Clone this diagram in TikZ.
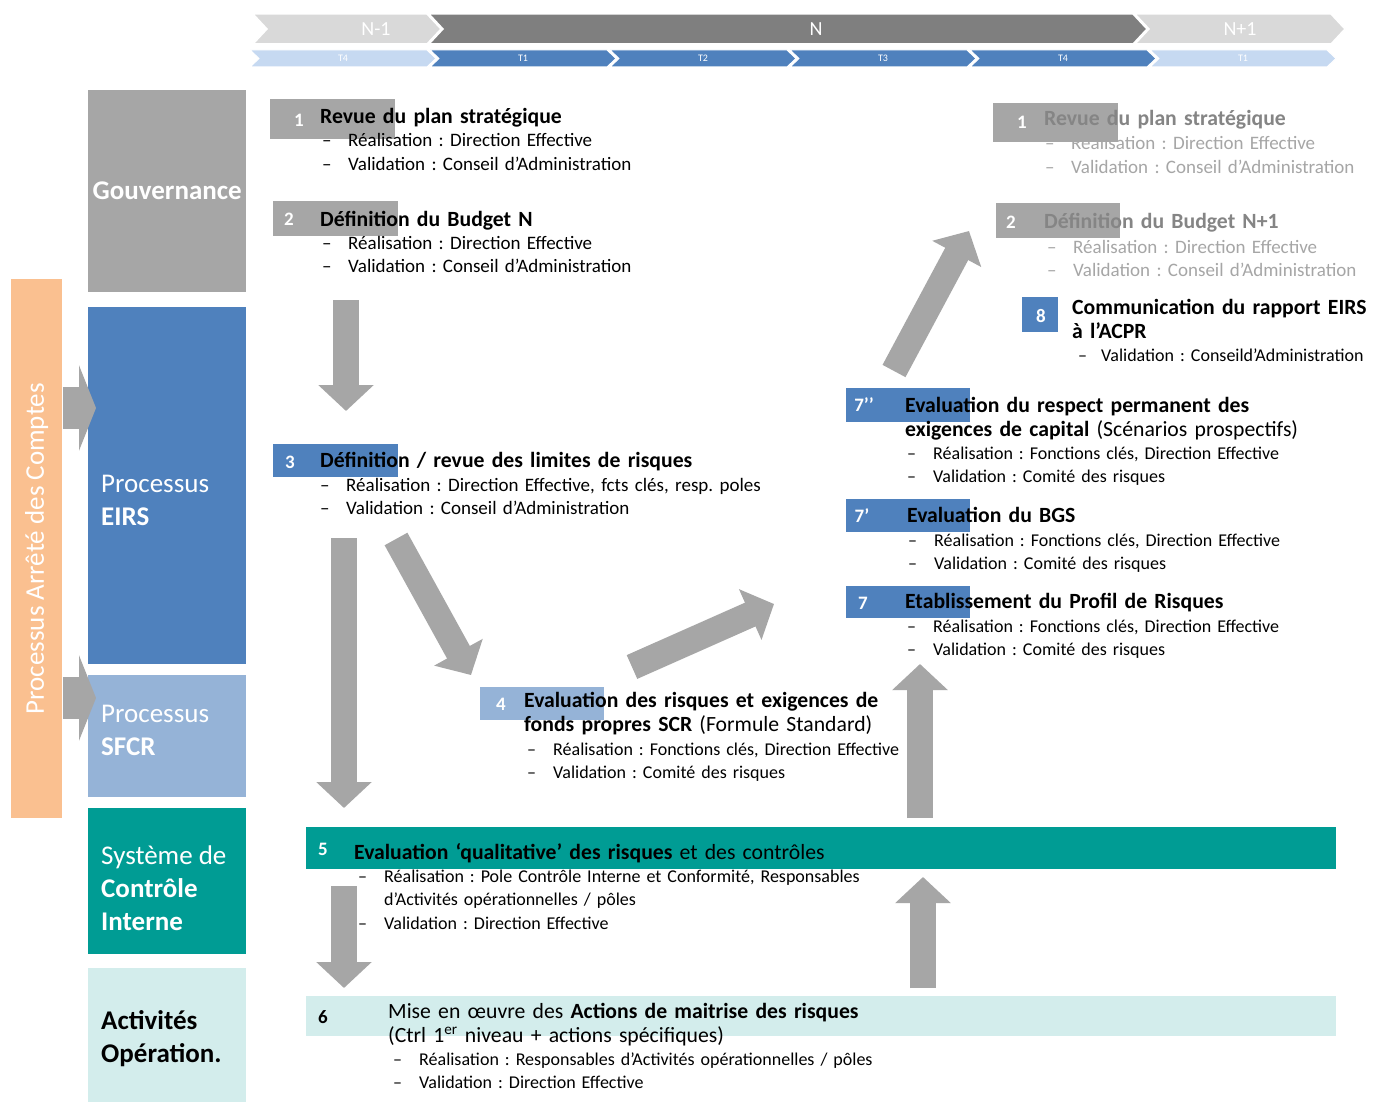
\documentclass[tikz,border=0pt]{standalone}
\usepackage{fontspec}
\setmainfont{Carlito}
\usepackage{tikz}
\usetikzlibrary{positioning, arrows.meta}

\definecolor{gris}{HTML}{A6A6A6}
\definecolor{grisf}{HTML}{7F7F7F}
\definecolor{grisc}{HTML}{D9D9D9}
\definecolor{bleu}{HTML}{4F81BD}
\definecolor{bleuc}{HTML}{95B3D7}
\definecolor{bleutl}{HTML}{C6D9F1}
\definecolor{sarc}{HTML}{009C94}
\definecolor{sarcc}{HTML}{D3EDEC}
\definecolor{peche}{HTML}{FAC090}
\definecolor{txtgris}{HTML}{858585}
\definecolor{txtgrisc}{HTML}{A6A6A6}

\newcommand{\tir}[1]{\makebox[26pt][l]{--}#1}
\newcommand{\sui}[1]{\makebox[26pt][l]{}#1}
\frenchspacing

\begin{document}
\begin{tikzpicture}[x=1pt, y=-1pt,
    side/.style={minimum width=158pt, inner sep=0pt, anchor=north west},
    sidetxt/.style={anchor=west, align=left, inner sep=0pt, text=white,
                    font=\fontsize{27}{33}\selectfont},
    nbox/.style={inner sep=0pt, anchor=north west},
    num/.style={text=white, inner sep=0pt, font=\fontsize{19}{20}\selectfont\bfseries},
    ttl/.style={anchor=base west, align=left, inner sep=0pt, text width=520pt,
                font=\fontsize{21.7}{24}\selectfont},
    sub/.style={anchor=base west, align=left, inner sep=0pt, text width=520pt,
                font=\fontsize{18}{23.5}\selectfont},
    subg/.style={sub, font=\fontsize{19}{23.5}\selectfont},
    an/.style={text=white, font=\fontsize{20}{20}\selectfont},
    tri/.style={text=white, font=\fontsize{10}{10}\selectfont},
    bigarr/.style={draw=gris, line width=26pt, -{Triangle[length=26pt, width=54pt]}},
    sidearr/.style={draw=gris, line width=42pt, -{Triangle[length=17pt, width=85pt]}},
  ]
  \path[use as bounding box, fill=white] (0,0) rectangle (1376,1102);

  % ── frise : années et trimestres ──
  \foreach \xa/\xb/\col/\lab/\xl [count=\i] in {253/427/grisc/N-1/376,
      429/1133/grisf/N/816, 1135/1331/grisc/N+1/1240} {
    \path[fill=\col, draw=white, line width=1.5pt] (\xa,14) -- (\xb,14) -- (\xb+14,29)
      -- (\xb,44) -- (\xa,44) -- (\xa+14,29) -- cycle;
    \node[an] (an\i) at (\xl,29) {\lab};
  }
  \foreach \xa/\col/\lab [count=\i] in {250/bleutl/T4, 430/bleu/T1, 610/bleu/T2,
      790/bleu/T3, 970/bleu/T4, 1150/bleutl/T1} {
    \path[fill=\col, draw=white, line width=1pt] (\xa,50) -- (\xa+177,50) -- (\xa+186,58.5)
      -- (\xa+177,67) -- (\xa,67) -- (\xa+9,58.5) -- cycle;
    \node[tri] (tr\i) at (\xa+93,58.5) {\lab};
  }

  % ── colonne de gauche ──
  \node[side, fill=peche, minimum width=51pt, minimum height=539pt] (pac) at (11,279) {};
  \node[rotate=90, text=white, font=\fontsize{27}{27}\selectfont] (tpac) at (pac.center)
    {Processus Arrêté des Comptes};
  \node[side, fill=gris,  minimum height=202pt] (gouv) at (88,90)  {};
  \node[side, fill=bleu,  minimum height=357pt] (eirs) at (88,307) {};
  \node[side, fill=bleuc, minimum height=122pt] (sfcr) at (88,675) {};
  \node[side, fill=sarc,  minimum height=146pt] (sci)  at (88,808) {};
  \node[side, fill=sarcc, minimum height=134pt] (act)  at (88,968) {};
  \node[sidetxt, anchor=center] (tgouv) at (gouv.center) {\textbf{Gouvernance}};
  \node[sidetxt] (teirs) at (101,500) {Processus\\\textbf{EIRS}};
  \node[sidetxt] (tsfcr) at (101,730) {Processus\\\textbf{SFCR}};
  \node[sidetxt] (tsci)  at (101,888) {Système de\\\textbf{Contrôle}\\\textbf{Interne}};
  \node[sidetxt, text=black] (tact) at (101,1039) {\textbf{Activités}\\\textbf{Opération.}};

  % ── bandeaux 5 et 6 ──
  \node[nbox, fill=sarc,  minimum width=1030pt, minimum height=42pt] (b5) at (306,827) {};
  \node[nbox, fill=sarcc, minimum width=1030pt, minimum height=40pt] (b6) at (306,996) {};

  % ── pavés numérotés ──
  \foreach \nm/\x/\y/\w/\h/\col in {k1/270/99/125/40/gris, k2/273/201/125/35/gris,
      k3/273/444/125/33/bleu, k4/480/687/124/33/bleuc, k7c/846/388/124/34/bleu,
      k7b/846/499/124/33/bleu, k7a/846/586/124/32/bleu, k8/1022/297/36/35/bleu,
      kr1/993/103/125/39/gris, kr2/996/203/124/35/gris}
    \node[nbox, fill=\col, minimum width=\w pt, minimum height=\h pt] (\nm) at (\x,\y) {};

  % ── flèches ──
  \coordinate (s1a) at (63,408);  \coordinate (s1b) at (96,408);
  \coordinate (s2a) at (63,698);  \coordinate (s2b) at (96,698);
  \coordinate (a1a) at (346,300); \coordinate (a1b) at (346,411);
  \coordinate (a2a) at (344,538); \coordinate (a2b) at (344,808);
  \coordinate (a3a) at (396,539); \coordinate (a3b) at (471,675);
  \coordinate (a4a) at (632,667); \coordinate (a4b) at (774,604);
  \coordinate (a5a) at (894,371); \coordinate (a5b) at (969,231);
  \coordinate (a6a) at (920,818); \coordinate (a6b) at (920,664);
  \coordinate (a7a) at (923,988); \coordinate (a7b) at (923,877);
  \coordinate (a8a) at (344,886); \coordinate (a8b) at (344,988);
  \foreach \i in {1,2} \draw[sidearr] (s\i a) -- (s\i b);
  \foreach \i in {1,...,8} \draw[bigarr] (a\i a) -- (a\i b);

  % ── numéros ──
  \foreach \nm/\x/\y/\lab in {n1/299/120/1, n2/289/219/2, n3/290/462/3, n4/501/704/4,
      n7c/864/405/7’’, n7b/862/516/7’, n7a/863/603/7, n8/1041/316/8,
      nr1/1022/122/1, nr2/1011/222/2, n5/323/849/5}
    \node[num] (\nm) at (\x,\y) {\lab};
  \node[num, text=black] (n6) at (323,1017) {6};

  % ── textes : année N ──
  \node[ttl] (t1) at (320,124) {\textbf{Revue du plan stratégique}};
  \node[subg] (s1) at (322,147) {\tir{Réalisation : Direction Effective}\\
    \tir{Validation : Conseil d’Administration}};
  \node[ttl] (t2) at (320,226) {\textbf{Définition du Budget N}};
  \node[subg] (s2) at (322,249) {\tir{Réalisation : Direction Effective}\\
    \tir{Validation : Conseil d’Administration}};
  \node[ttl] (t3) at (320,467) {\textbf{Définition / revue des limites de risques}};
  \node[subg] (s3) at (320,491) {\tir{Réalisation : Direction Effective, fcts clés, resp. poles}\\
    \tir{Validation : Conseil d’Administration}};
  \node[ttl] (t4) at (524,707) {\textbf{Evaluation des risques et exigences de}\\
    \textbf{fonds propres SCR} (Formule Standard)};
  \node[sub] (s4) at (527,755) {\tir{Réalisation : Fonctions clés, Direction Effective}\\
    \tir{Validation : Comité des risques}};
  \node[ttl] (t5) at (354,859) {\textbf{Evaluation ‘qualitative’ des risques} et des contrôles};
  \node[sub] (s5) at (358,882) {\tir{Réalisation : Pole Contrôle Interne et Conformité, Responsables}\\
    \sui{d’Activités opérationnelles / pôles}\\\tir{Validation : Direction Effective}};
  \node[ttl] (t6) at (388,1018) {Mise en œuvre des \textbf{Actions de maitrise des risques}\\
    (Ctrl 1\textsuperscript{er} niveau + actions spécifiques)};
  \node[sub] (s6) at (393,1065) {\tir{Réalisation : Responsables d’Activités opérationnelles / pôles}\\
    \tir{Validation : Direction Effective}};
  \node[ttl] (t7a) at (905,608) {\textbf{Etablissement du Profil de Risques}};
  \node[sub] (s7a) at (907,632) {\tir{Réalisation : Fonctions clés, Direction Effective}\\
    \tir{Validation : Comité des risques}};
  \node[ttl] (t7b) at (907,522) {\textbf{Evaluation du BGS}};
  \node[sub] (s7b) at (908,546) {\tir{Réalisation : Fonctions clés, Direction Effective}\\
    \tir{Validation : Comité des risques}};
  \node[ttl] (t7c) at (905,412) {\textbf{Evaluation du respect permanent des}\\
    \textbf{exigences de capital} (Scénarios prospectifs)};
  \node[sub] (s7c) at (907,459) {\tir{Réalisation : Fonctions clés, Direction Effective}\\
    \tir{Validation : Comité des risques}};
  \node[ttl] (t8) at (1072,314) {\textbf{Communication du rapport EIRS}\\\textbf{à l’ACPR}};
  \node[sub] (s8) at (1078,361) {\makebox[23pt][l]{--}Validation : Conseild’Administration};

  % ── textes : année N+1 ──
  \node[ttl, text=txtgris] (tr1) at (1044,126) {\textbf{Revue du plan stratégique}};
  \node[subg, text=txtgrisc] (sr1) at (1045,150) {\tir{Réalisation : Direction Effective}\\
    \tir{Validation : Conseil d’Administration}};
  \node[ttl, text=txtgris] (tr2) at (1044,229) {\textbf{Définition du Budget N+1}};
  \node[subg, text=txtgrisc] (sr2) at (1047,253) {\tir{Réalisation : Direction Effective}\\
    \tir{Validation : Conseil d’Administration}};
\end{tikzpicture}
\end{document}
